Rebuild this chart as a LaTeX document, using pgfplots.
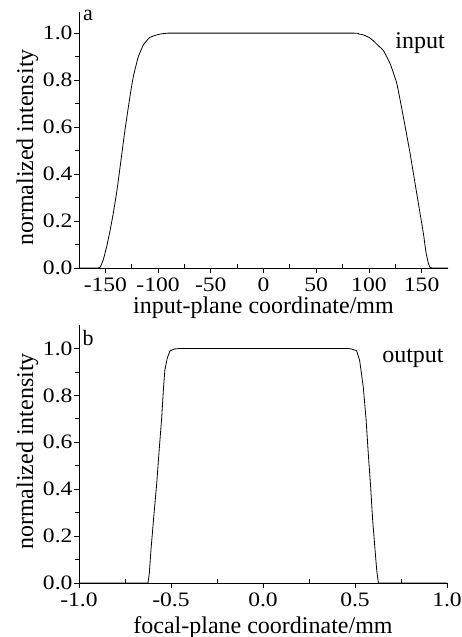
\documentclass[border=0pt]{standalone}
\usepackage{fontspec}
\setmainfont{Liberation Serif}
\newfontfamily\tickfont{Liberation Serif}[FakeStretch=1.15]
\usepackage{pgfplots}
\pgfplotsset{compat=1.18}
\begin{document}
\begin{tikzpicture}
\path[use as bounding box] (0,0) rectangle (461pt,637pt);
\pgfplotsset{
 mystyle/.style={
  scale only axis,
  axis lines=left,
  axis line style={-, line width=0.9pt},
  tick align=outside,
  major tick length=5pt,
  minor tick length=4pt,
  tick style={black, line width=0.8pt},
  minor x tick style={yshift=4pt},
  ymin=0,
  ytick={0,0.2,0.4,0.6,0.8,1.0},
  minor y tick num=1,
  minor x tick num=1,
  y tick label style={/pgf/number format/.cd,fixed,fixed zerofill,precision=1,/tikz/.cd, xshift=2pt},
  x tick label style={yshift=-1pt},
  /pgf/number format/assume math mode=true,
  tick label style={font=\tickfont\fontsize{20.5}{22}\selectfont},
  ylabel={normalized intensity},
  every axis x label/.style={at={(axis description cs:0.5,0)}, anchor=base, font=\fontsize{24}{26}\selectfont},
  every axis y label/.style={at={(axis description cs:-0.14,0.5)}, rotate=90, anchor=center, font=\fontsize{24}{26}\selectfont},
  clip=false,
 }
}
\begin{axis}[mystyle,
  at={(79pt,369pt)}, anchor=south west,
  width=369pt, height=256pt,
  xmin=-175, xmax=175, ymax=1.09,
  xtick={-150,-100,-50,0,50,100,150},
  xlabel={input-plane coordinate/mm},
  xlabel style={yshift=-46pt},
  ylabel style={at={(axis description cs:-0.14,0.47)}},
]
\addplot[black, line width=0.8pt, smooth, tension=0.3] coordinates {
(-175,0) (-157,0) (-155,0.003) (-152,0.035) (-148.8,0.09) (-145.5,0.16)
(-142.5,0.233) (-139,0.33) (-136,0.431) (-131.4,0.587) (-126.7,0.729)
(-123.5,0.814) (-118.8,0.899) (-114,0.949) (-110,0.972) (-107.7,0.982)
(-103,0.99) (-98,0.996) (-93,0.999) (-88,1.0) (0,1.0)
(85,1.0) (90,0.997) (95,0.992) (100,0.982) (104,0.968) (107,0.955) (110,0.942)
(113.7,0.926) (120,0.871) (126.4,0.786) (132.6,0.644) (139,0.489)
(145.3,0.318) (151.6,0.149) (154,0.07) (156.4,0.02) (158,0.002) (160,0) (175,0)
};
\node[font=\fontsize{22}{24}\selectfont, anchor=center] at (axis cs:-166.5,1.077) {a};
\node[font=\fontsize{24}{26}\selectfont, anchor=center] at (axis cs:148.5,0.957) {input};
\end{axis}
\begin{axis}[mystyle,
  at={(79pt,54pt)}, anchor=south west,
  width=368pt, height=258pt,
  xmin=-1, xmax=1, ymax=1.10,
  xtick={-1,-0.5,0,0.5,1},
  x tick label style={/pgf/number format/.cd,fixed,fixed zerofill,precision=1,/tikz/.cd},
  xlabel={focal-plane coordinate/mm},
  xlabel style={yshift=-50pt},
  ylabel style={at={(axis description cs:-0.14,0.51)}},
]
\addplot[black, line width=0.8pt] coordinates {
(-1,0) (-0.625,0) (-0.618,0.04) (-0.61,0.13) (-0.594,0.28) (-0.578,0.42)
(-0.565,0.56) (-0.551,0.70) (-0.54,0.84) (-0.533,0.91) (-0.52,0.96)
(-0.505,0.99) (-0.48,0.998) (-0.45,1.0) (0,1.0) (0.46,1.0) (0.48,0.998)
(0.509,0.99) (0.525,0.95) (0.545,0.835) (0.56,0.70) (0.572,0.553)
(0.585,0.41) (0.596,0.268) (0.608,0.15) (0.618,0.055) (0.627,0) (1,0)
};
\node[font=\fontsize{22}{24}\selectfont, anchor=center] at (axis cs:-0.951,1.043) {b};
\node[font=\fontsize{24}{26}\selectfont, anchor=center] at (axis cs:0.815,0.957) {output};
\end{axis}
\end{tikzpicture}
\end{document}
